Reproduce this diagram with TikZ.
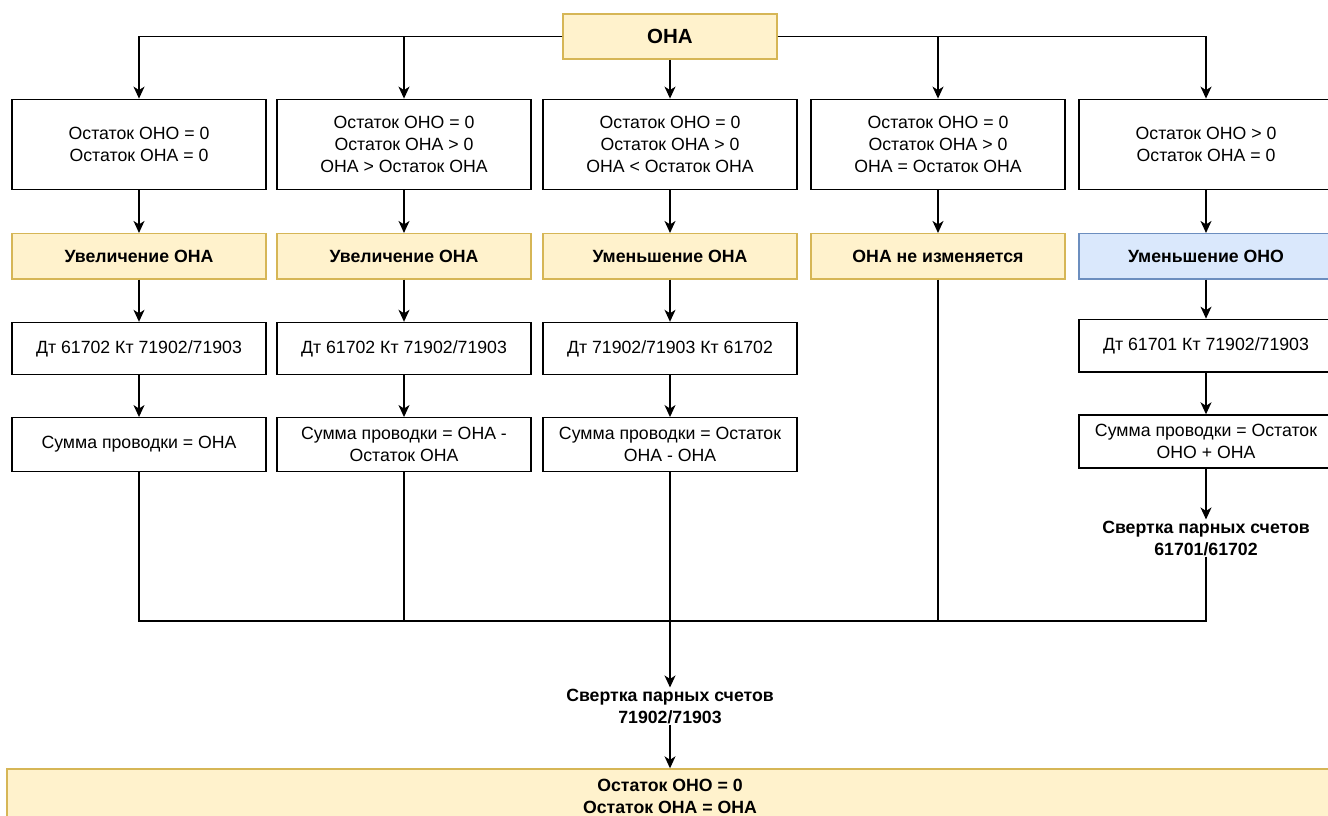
\documentclass[tikz,border=0pt]{standalone}
\usepackage{fontspec}
\setmainfont{Liberation Sans}
\usetikzlibrary{arrows.meta}
\definecolor{yfill}{HTML}{FFF2CC}
\definecolor{ystroke}{HTML}{D6B656}
\definecolor{bfill}{HTML}{DAE8FC}
\definecolor{bstroke}{HTML}{6C8EBF}
\begin{document}
\begin{tikzpicture}[x=1pt,y=-1pt,
  box/.style={draw=black, line width=1.4pt, fill=white, minimum width=254pt, inner sep=0pt, align=center, font=\fontsize{17.7}{22}\selectfont},
  ybox/.style={box, draw=ystroke, fill=yfill, font=\fontsize{17.7}{22}\selectfont\bfseries},
  bbox/.style={box, draw=bstroke, fill=bfill, font=\fontsize{17.7}{22}\selectfont\bfseries},
  lbl/.style={inner sep=1pt, align=center, font=\fontsize{17.7}{22}\selectfont\bfseries},
  ln/.style={draw=black, line width=1.4pt},
  arr/.style={ln, -{Stealth[length=12pt,width=11pt,inset=3.5pt]}}]
\clip (0,0) rectangle (1328,816);
\fill[white] (0,0) rectangle (1328,816);
% top
\node[ybox, minimum width=214pt, minimum height=45pt, font=\fontsize{20.5}{24}\selectfont\bfseries] (top) at (670,36.7) {ОНА};
% row 1
\node[box, minimum height=90pt] (r11) at (139,144.3) {Остаток ОНО = 0\\Остаток ОНА = 0};
\node[box, minimum height=90pt] (r12) at (404,144.3) {Остаток ОНО = 0\\Остаток ОНА > 0\\ОНА > Остаток ОНА};
\node[box, minimum height=90pt] (r13) at (670,144.3) {Остаток ОНО = 0\\Остаток ОНА > 0\\ОНА < Остаток ОНА};
\node[box, minimum height=90pt] (r14) at (938,144.3) {Остаток ОНО = 0\\Остаток ОНА > 0\\ОНА = Остаток ОНА};
\node[box, minimum height=90pt] (r15) at (1206,144.3) {Остаток ОНО > 0\\Остаток ОНА = 0};
% row 2
\node[ybox, minimum height=45.3pt] (r21) at (139,256.3) {Увеличение ОНА};
\node[ybox, minimum height=45.3pt] (r22) at (404,256.3) {Увеличение ОНА};
\node[ybox, minimum height=45.3pt] (r23) at (670,256.3) {Уменьшение ОНА};
\node[ybox, minimum height=45.3pt] (r24) at (938,256.3) {ОНА не изменяется};
\node[bbox, minimum height=45.3pt] (r25) at (1206,256.3) {Уменьшение ОНО};
% row 3
\node[box, minimum height=52pt] (r31) at (139,348.5) {Дт 61702 Кт 71902/71903};
\node[box, minimum height=52pt] (r32) at (404,348.5) {Дт 61702 Кт 71902/71903};
\node[box, minimum height=52pt] (r33) at (670,348.5) {Дт 71902/71903 Кт 61702};
\node[box, minimum height=52.7pt] (r35) at (1206,345.7) {Дт 61701 Кт 71902/71903};
% row 4
\node[box, minimum height=53.5pt] (r41) at (139,444.5) {Сумма проводки = ОНА};
\node[box, minimum height=53.5pt] (r42) at (404,444.5) {Сумма проводки = ОНА -\\Остаток ОНА};
\node[box, minimum height=53.5pt] (r43) at (670,444.5) {Сумма проводки = Остаток\\ОНА - ОНА};
\node[box, minimum height=53pt] (r45) at (1206,441.5) {Сумма проводки = Остаток\\ОНО + ОНА};
% labels
\node[lbl] (s5) at (1206,538) {Свертка парных счетов\\61701/61702};
\node[lbl] (sm) at (670,706) {Свертка парных счетов\\71902/71903};
% final
\node[ybox, minimum width=1326pt, minimum height=54pt] (fin) at (670,796) {Остаток ОНО = 0\\Остаток ОНА = ОНА};
\coordinate (m) at (670,621);
% connectors from top
\draw[arr] (top.west) -| (r11.north);
\draw[arr] (top.west) -| (r12.north);
\draw[arr] (top.south) -- (r13.north);
\draw[arr] (top.east) -| (r14.north);
\draw[arr] (top.east) -| (r15.north);
% row connectors
\foreach \i in {1,2,3,4,5} {\draw[arr] (r1\i) -- (r2\i);}
\foreach \i in {1,2,3,5} {\draw[arr] (r2\i) -- (r3\i); \draw[arr] (r3\i) -- (r4\i);}
\draw[arr] (r45) -- (s5);
% merge
\draw[ln] (r41.south) |- (m);
\draw[ln] (r42.south) |- (m);
\draw[ln] (r43.south) -- (m);
\draw[ln] (r24.south) |- (m);
\draw[ln] (s5.south) |- (m);
\draw[arr] (m) -- (sm);
\draw[arr] (sm) -- (fin);
\end{tikzpicture}
\end{document}
